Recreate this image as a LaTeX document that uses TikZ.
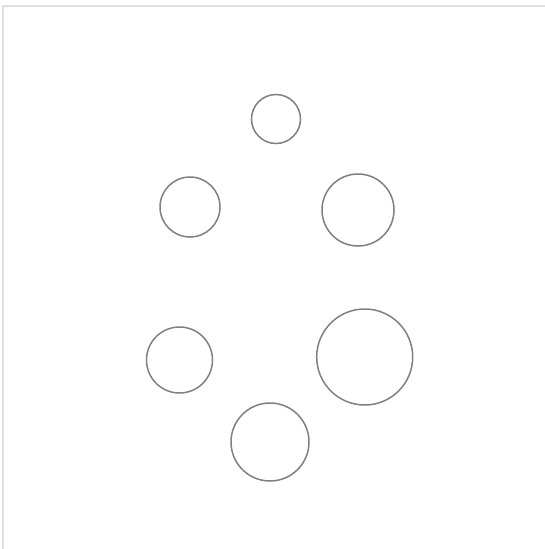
\documentclass[tikz,border=0pt]{standalone}
\usepackage{xcolor}
\usepackage{tikz}
\usetikzlibrary{positioning}
\definecolor{ring}{HTML}{808080}
\definecolor{frame}{HTML}{E0E0E0}

\begin{document}
\begin{tikzpicture}[x=1pt,y=-1pt,
 bubble/.style={circle,draw=ring,line width=1.5pt,fill=white,inner sep=0pt},
 edge/.style={draw=frame,line width=2pt}]
 \useasboundingbox (0,0) rectangle (545,549);
 \draw[edge] (2.5,549) -- (2.5,6) -- (545,6);
 \node[bubble,minimum size=49pt] (top) at (276,119) {};
 \node[bubble,minimum size=60pt] (upl) at (190,207) {};
 \node[bubble,minimum size=72pt] (upr) at (358,210) {};
 \node[bubble,minimum size=66pt] (lowl) at (179.5,360) {};
 \node[bubble,minimum size=96pt] (lowr) at (364.7,357) {};
 \node[bubble,minimum size=78pt] (bot) at (270,442) {};
\end{tikzpicture}
\end{document}
